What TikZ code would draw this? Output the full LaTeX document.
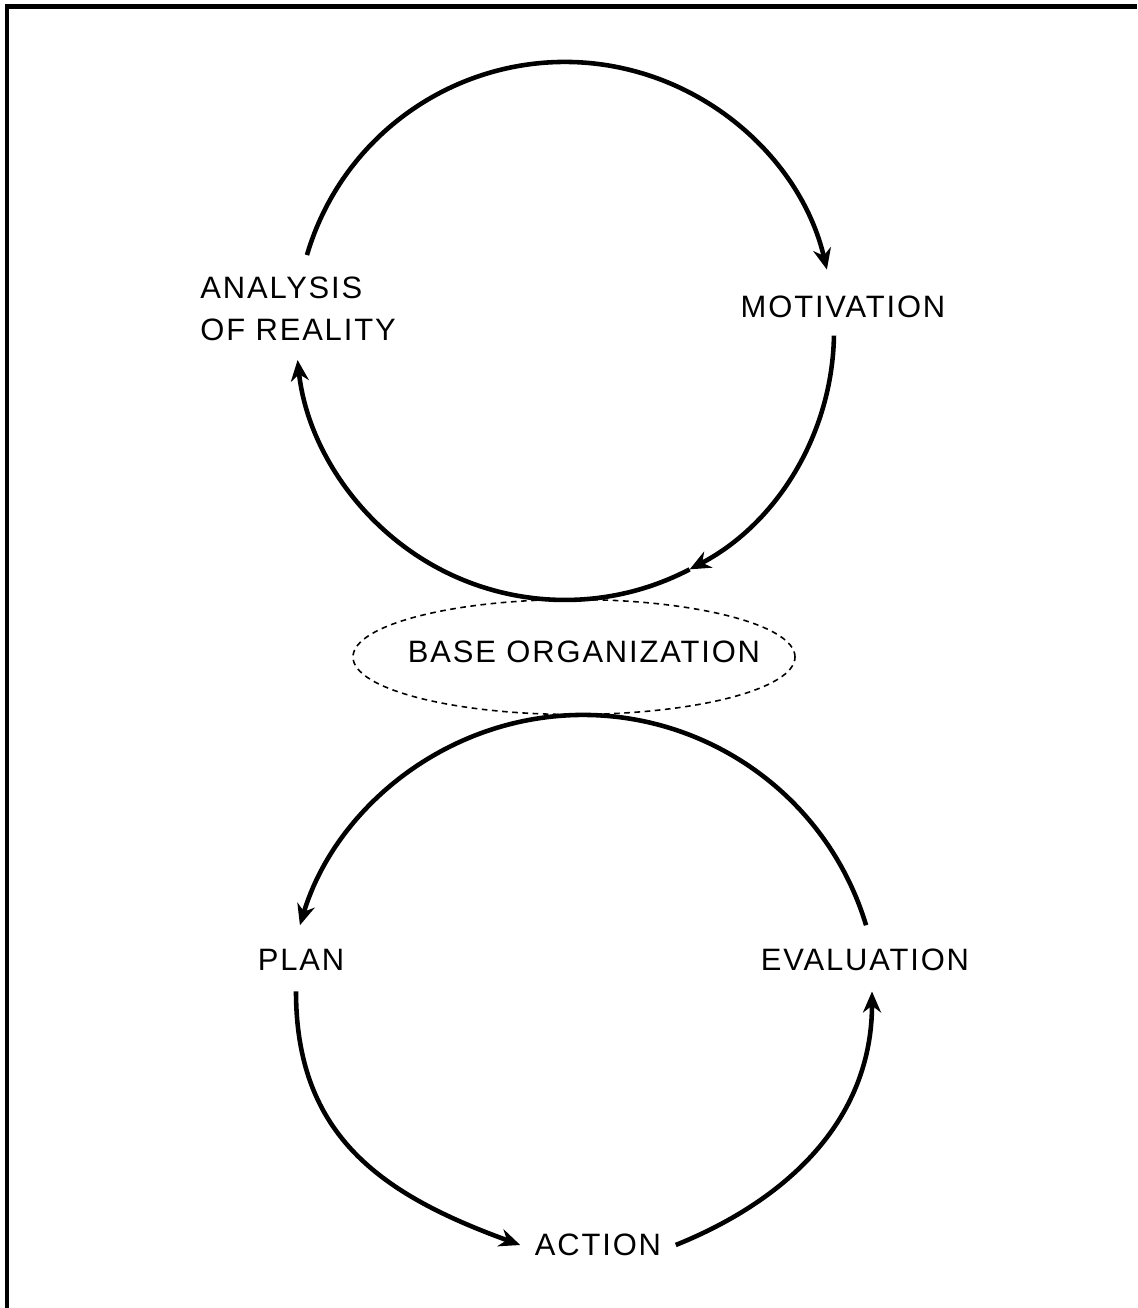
\documentclass[tikz,border=0pt]{standalone}
\usepackage{fontspec}
\newfontfamily\cyclefont{Liberation Sans}[LetterSpace=6.0]
\usepackage{tikz}
\usetikzlibrary{arrows.meta,positioning,calc}

\tikzset{
    cyclelabel/.style={font=\cyclefont\fontsize{8.8pt}{11.95pt}\selectfont,
        inner xsep=0.14cm, inner ysep=0.2cm, text depth=0pt},
    cyclearrow/.style={line width=1.3pt, -{Stealth[length=2.1mm,width=1.8mm]}}
}

\begin{document}
\begin{tikzpicture}
    \useasboundingbox (0,0) rectangle (11.37,13.08);

    % Frame
    \draw[line width=1.3pt] (0.07,0) -- (0.07,13.015) -- (11.37,13.015);

    % Upper cycle
    \coordinate (upper) at (5.65,9.77);
    \node[cyclelabel, align=left] (analysis) at (2.98,9.99) {ANALYSIS\\OF REALITY};
    \node[cyclelabel] (motivation) at (8.43,10.01) {MOTIVATION};

    \draw[cyclearrow] (upper) ++(163.6:2.69) arc[start angle=163.6, end angle=13.2, radius=2.69];
    \draw[cyclearrow] (upper) ++(-1:2.69) arc[start angle=-1, end angle=-62.4, radius=2.69];
    \draw[cyclearrow] (upper) ++(-62.4:2.69) arc[start angle=-62.4, end angle=-173.8, radius=2.69];

    % Base organization
    \node[cyclelabel] (base) at (5.84,6.56) {BASE ORGANIZATION};
    \draw[dashed, line width=0.45pt, dash pattern=on 1.6pt off 1.3pt]
        ([xshift=-0.1cm,yshift=-0.05cm]base.center) ellipse[x radius=2.21, y radius=0.575];

    % Lower cycle
    \coordinate (lower) at (5.83,2.973);
    \node[cyclelabel] (plan) at (3.01,3.48) {PLAN};
    \node[cyclelabel] (evaluation) at (8.65,3.48) {EVALUATION};
    \node[cyclelabel] (action) at (5.98,0.63) {ACTION};

    \draw[cyclearrow] (lower) ++(16.8:2.957) arc[start angle=16.8, end angle=163.2, radius=2.957];
    \draw[cyclearrow] ([xshift=-0.05cm]plan.south) to[out=-90, in=160, looseness=1.1] (action.west);
    \draw[cyclearrow] (action.east) to[out=22, in=-90] ([xshift=0.07cm]evaluation.south);
\end{tikzpicture}
\end{document}
